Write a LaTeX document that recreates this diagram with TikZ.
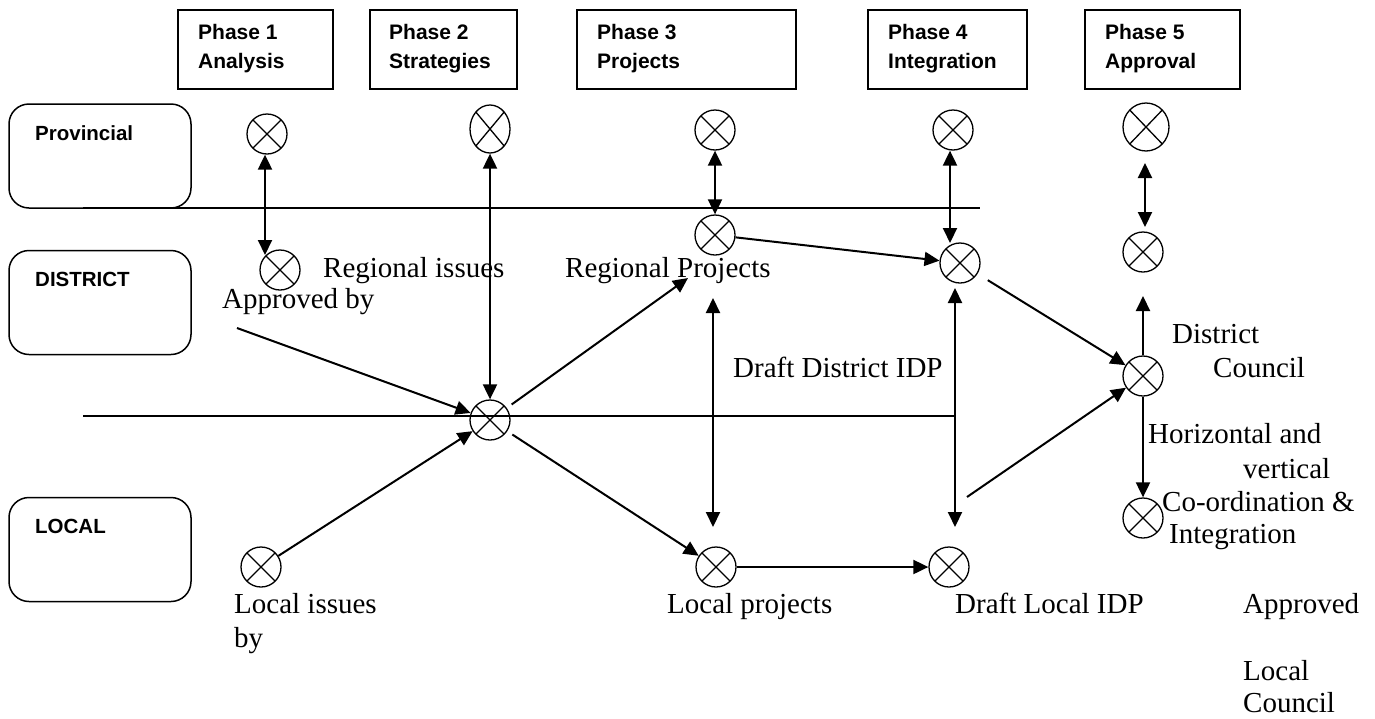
\documentclass[tikz,border=0pt]{standalone}
\usepackage{fontspec}
\setmainfont{Liberation Serif}
\newfontfamily\arialf{Liberation Sans}
\usetikzlibrary{arrows.meta,shapes.geometric}
\begin{document}
\begin{tikzpicture}[x=1pt,y=-1pt,
  xmark/.style={draw, line width=1.3pt, inner sep=0pt,
    path picture={\draw[line width=1.3pt]
      (path picture bounding box.south west) -- (path picture bounding box.north east)
      (path picture bounding box.north west) -- (path picture bounding box.south east);}},
  xc/.style={xmark, circle, minimum size=40pt},
  xe/.style={xmark, ellipse, minimum width=#1, minimum height=48pt},
  arr/.style={line width=2pt, -{Triangle[length=15pt,width=14pt]}},
  dbl/.style={line width=2pt, {Triangle[length=15pt,width=14pt]}-{Triangle[length=15pt,width=14pt]}},
  hline/.style={line width=1.3pt},
  phbox/.style={draw, line width=1.5pt, minimum height=79pt, inner sep=0pt},
  rowbox/.style={draw, line width=1.5pt, rounded corners=20pt, minimum width=182pt, minimum height=104pt, inner sep=0pt},
  phtxt/.style={anchor=base west, inner sep=0pt, font=\arialf\bfseries\fontsize{21}{24}\selectfont},
  rowtxt/.style={anchor=base west, inner sep=0pt, font=\arialf\bfseries\fontsize{20.5}{24}\selectfont},
  tx/.style={anchor=base west, inner sep=0pt, font=\fontsize{29}{33}\selectfont}
]
\useasboundingbox (0,0) rectangle (1375,718);

% phase boxes
\node[phbox, minimum width=155pt] (p1) at (255.5,49.5) {};
\node[phbox, minimum width=147pt] (p2) at (443.5,49.5) {};
\node[phbox, minimum width=219pt] (p3) at (686.5,49.5) {};
\node[phbox, minimum width=159pt] (p4) at (947.5,49.5) {};
\node[phbox, minimum width=155pt] (p5) at (1162.5,49.5) {};
\node[phtxt] (p1a) at (198,39) {Phase 1};
\node[phtxt] (p1b) at (198,68) {Analysis};
\node[phtxt] (p2a) at (389,39) {Phase 2};
\node[phtxt] (p2b) at (389,68) {Strategies};
\node[phtxt] (p3a) at (597,39) {Phase 3};
\node[phtxt] (p3b) at (597,68) {Projects};
\node[phtxt] (p4a) at (888,39) {Phase 4};
\node[phtxt] (p4b) at (888,68) {Integration};
\node[phtxt] (p5a) at (1105,39) {Phase 5};
\node[phtxt] (p5b) at (1105,68) {Approval};

% row boxes
\node[rowbox] (rprov) at (100,156) {};
\node[rowbox] (rdist) at (100,302.5) {};
\node[rowbox] (rloc) at (100,549.5) {};
\node[rowtxt] (tprov) at (35,140) {Provincial};
\node[rowtxt] (tdist) at (35,286) {DISTRICT};
\node[rowtxt] (tloc) at (35,533) {LOCAL};

% horizontal lines
\coordinate (l1a) at (83,208);
\coordinate (l1b) at (980,208);
\coordinate (l2a) at (83,416);
\coordinate (l2b) at (955,416);
\draw[hline] (l1a) -- (l1b);
\draw[hline] (l2a) -- (l2b);

% circles
\node[xc] (C1) at (267,134) {};
\node[xc] (C2) at (280,270) {};
\node[xe=40pt] (C3) at (490,129) {};
\node[xc] (C4) at (490,420) {};
\node[xc] (C5) at (261,567) {};
\node[xc] (C6) at (715,130) {};
\node[xc] (C7) at (715,235) {};
\node[xc] (C8) at (960,263) {};
\node[xc] (C9) at (953,130) {};
\node[xc] (C10) at (716,567) {};
\node[xc] (C11) at (949,567) {};
\node[xe=46pt] (C12) at (1146,127) {};
\node[xc] (C13) at (1143,252) {};
\node[xc] (C14) at (1143,376) {};
\node[xc] (C15) at (1143,518) {};

% free ends
\coordinate (apb) at (237,328);
\coordinate (rp) at (688,278);
\coordinate (dd1) at (713,298);
\coordinate (dd2) at (713,527);
\coordinate (di1) at (955,288);
\coordinate (di2) at (955,527);
\coordinate (dl) at (967,497);
\coordinate (up) at (1143,296);
\coordinate (ap1) at (1145,163);
\coordinate (ap2) at (1145,227);

% connectors
\draw[dbl] (C1.south -| 265,0) -- (265,255);
\draw[dbl] (C3.south) -- (C4.north);
\draw[arr] (apb) -- (C4);
\draw[arr] (C5) -- (C4);
\draw[arr, shorten <=6pt] (C4) -- (rp);
\draw[arr, shorten <=6pt] (C4) -- (C10);
\draw[dbl] (dd1) -- (dd2);
\draw[dbl] (C6) -- (C7);
\draw[arr] (C7) -- (C8);
\draw[dbl] (C9.south -| 950,0) -- (950,243);
\draw[dbl] (di1) -- (di2);
\draw[arr, shorten <=12pt] (C8) -- (C14);
\draw[arr] (dl) -- (C14);
\draw[arr] (C14.north) -- (up);
\draw[arr] (C14) -- (C15);
\draw[arr] (C10) -- (C11);
\draw[dbl] (ap1) -- (ap2);

% texts
\node[tx] (t1) at (323,277) {Regional issues};
\node[tx] (t2) at (222,308) {Approved by};
\node[tx] (t3) at (565,277) {Regional Projects};
\node[tx] (t4) at (733,377) {Draft District IDP};
\node[tx] (t5) at (234,613) {Local issues};
\node[tx] (t6) at (234,647) {by};
\node[tx] (t7) at (667,613) {Local projects};
\node[tx] (t8) at (955,613) {Draft Local IDP};
\node[tx] (t9) at (1243,613) {Approved};
\node[tx] (t10) at (1243,680) {Local};
\node[tx] (t11) at (1243,712) {Council};
\node[tx] (t12) at (1172,343) {District};
\node[tx] (t13) at (1213,377) {Council};
\node[tx] (t14) at (1148,443) {Horizontal and};
\node[tx] (t15) at (1243,478) {vertical};
\node[tx] (t16) at (1162,511) {Co-ordination \&};
\node[tx] (t17) at (1169,543) {Integration};
\end{tikzpicture}
\end{document}
